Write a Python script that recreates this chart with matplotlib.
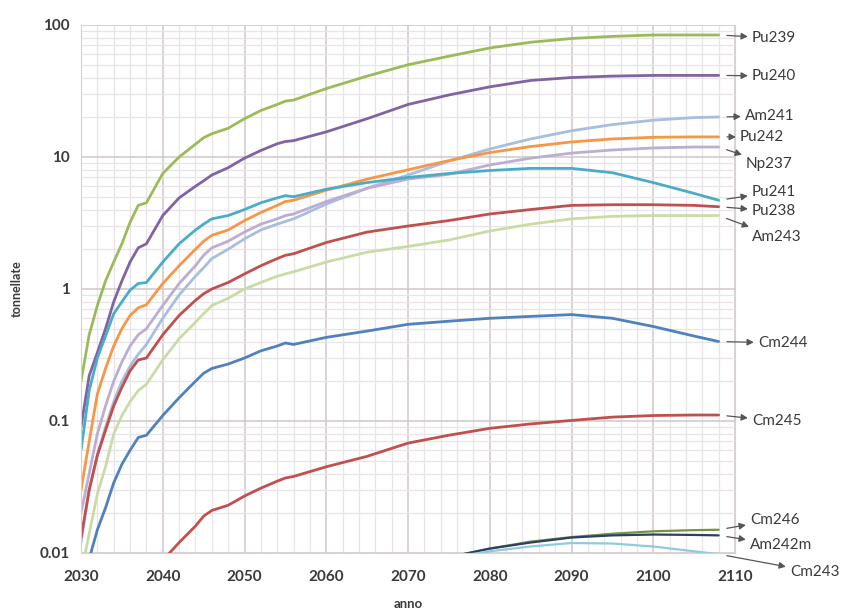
import numpy as np
import matplotlib
matplotlib.use("Agg")
from matplotlib import pyplot as plt
from matplotlib.ticker import FixedLocator, FuncFormatter, LogLocator, NullFormatter

years = [2030, 2031, 2032, 2033, 2034, 2035, 2036, 2037, 2038, 2040, 2042, 2044, 2045, 2046,
         2048, 2050, 2052, 2054, 2055, 2056, 2060, 2065, 2070, 2075, 2080, 2085, 2090, 2095,
         2100, 2105, 2108]

nan = np.nan

pu239 = [0.2, 0.45, 0.75, 1.15, 1.6, 2.2, 3.2, 4.3, 4.5, 7.5, 10, 12.5, 14, 15,
         16.5, 19.5, 22.5, 25, 26.5, 27, 33, 41, 50, 58, 67, 74, 79, 82,
         84, 84, 84]
pu240 = [0.09, 0.22, 0.33, 0.5, 0.8, 1.15, 1.6, 2.05, 2.2, 3.6, 4.9, 6.0, 6.6, 7.3,
         8.3, 9.8, 11.2, 12.6, 13.1, 13.3, 15.5, 19.5, 25, 29.5, 34, 38, 40, 41,
         41.5, 41.5, 41.5]
am241 = [0.012, 0.03, 0.055, 0.09, 0.14, 0.2, 0.26, 0.32, 0.38, 0.6, 0.9, 1.25, 1.45, 1.7,
         2.0, 2.4, 2.8, 3.1, 3.25, 3.4, 4.4, 5.8, 7.3, 9.3, 11.5, 13.7, 15.8, 17.6,
         19.0, 19.9, 20.1]
pu242 = [0.03, 0.07, 0.16, 0.25, 0.37, 0.5, 0.63, 0.72, 0.76, 1.1, 1.5, 2.0, 2.3, 2.55,
         2.8, 3.3, 3.8, 4.3, 4.6, 4.7, 5.6, 6.8, 8.0, 9.4, 10.8, 12.0, 13.0, 13.7,
         14.1, 14.2, 14.2]
np237 = [0.02, 0.04, 0.08, 0.13, 0.2, 0.28, 0.37, 0.45, 0.5, 0.75, 1.1, 1.5, 1.8, 2.05,
         2.3, 2.7, 3.1, 3.4, 3.6, 3.7, 4.6, 5.8, 6.8, 7.4, 8.7, 9.8, 10.7, 11.3,
         11.7, 11.9, 11.9]
pu241 = [0.06, 0.17, 0.3, 0.44, 0.65, 0.8, 0.98, 1.1, 1.12, 1.6, 2.2, 2.8, 3.1, 3.4,
         3.6, 4.0, 4.5, 4.9, 5.1, 5.0, 5.7, 6.4, 7.0, 7.5, 7.9, 8.2, 8.2, 7.6,
         6.4, 5.3, 4.7]
pu238 = [0.013, 0.03, 0.055, 0.085, 0.13, 0.18, 0.24, 0.29, 0.3, 0.45, 0.63, 0.82, 0.92, 1.0,
         1.12, 1.3, 1.5, 1.7, 1.8, 1.85, 2.25, 2.7, 3.0, 3.3, 3.7, 4.0, 4.3, 4.35,
         4.35, 4.3, 4.2]
am243 = [0.007, 0.014, 0.028, 0.045, 0.08, 0.11, 0.14, 0.17, 0.19, 0.29, 0.42, 0.56, 0.65, 0.75,
         0.85, 1.0, 1.12, 1.25, 1.3, 1.35, 1.6, 1.9, 2.1, 2.35, 2.75, 3.1, 3.4, 3.55,
         3.6, 3.6, 3.6]
cm244 = [0.005, 0.009, 0.015, 0.022, 0.034, 0.047, 0.06, 0.075, 0.078, 0.11, 0.15, 0.2, 0.23, 0.25,
         0.27, 0.3, 0.34, 0.37, 0.39, 0.38, 0.43, 0.48, 0.54, 0.57, 0.6, 0.62, 0.64, 0.6,
         0.52, 0.44, 0.4]
cm245 = [nan, nan, nan, nan, nan, nan, nan, nan, 0.006, 0.0088, 0.012, 0.016, 0.019, 0.021,
         0.023, 0.027, 0.031, 0.035, 0.037, 0.038, 0.045, 0.054, 0.068, 0.078, 0.088, 0.095, 0.101, 0.107,
         0.11, 0.111, 0.111]
cm246 = [nan] * 21 + [0.0068, 0.008, 0.0093, 0.0108, 0.0122, 0.0132, 0.014, 0.0146, 0.0149, 0.015]
am242m = [nan] * 21 + [0.0068, 0.008, 0.0093, 0.0108, 0.012, 0.0131, 0.0136, 0.0138, 0.0137, 0.0136]
cm243 = [nan] * 21 + [0.0068, 0.008, 0.0092, 0.0103, 0.0112, 0.0119, 0.0118, 0.0112, 0.0103, 0.0098]

series_names = ["Pu239", "Pu240", "Am241", "Pu242", "Np237", "Pu241", "Pu238", "Am243",
                "Cm244", "Cm245", "Cm246", "Am242m", "Cm243"]
series_values = [pu239, pu240, am241, pu242, np237, pu241, pu238, am243,
                 cm244, cm245, cm246, am242m, cm243]
colors = ["#9BBB59", "#8064A2", "#A7BEDE", "#F79646", "#BCADD3", "#4BACC6", "#C0504D", "#C9DCA6",
          "#4F81BD", "#C0504D", "#77933C", "#2C3E6B", "#8FCBDC"]

# posizione delle etichette (pixel dall'alto a sinistra)
label_pos = {
    "Pu239": (752, 38), "Pu240": (752, 76), "Am241": (745, 116), "Pu242": (740, 137),
    "Np237": (746, 164), "Pu241": (752, 192), "Pu238": (752, 211), "Am243": (752, 237),
    "Cm244": (758, 343), "Cm245": (752, 421), "Cm246": (750, 520), "Am242m": (750, 545),
    "Cm243": (790, 572),
}

W, H = 844, 608
fig = plt.figure(figsize=(W / 100, H / 100), dpi=100)
ax = fig.add_axes([81 / W, 55 / H, 654 / W, 528 / H])

for name, vals, c in zip(series_names, series_values, colors):
    lw = 1.6 if name in ("Cm246", "Am242m", "Cm243") else 2.0
    ax.plot(years, vals, color=c, lw=lw, solid_capstyle="round")

ax.set_yscale("log")
ax.set_ylim(0.01, 100)
ax.set_xlim(2030, 2110)

ax.xaxis.set_major_locator(FixedLocator(range(2030, 2111, 10)))
ax.xaxis.set_minor_locator(FixedLocator(range(2030, 2111, 2)))
ax.yaxis.set_major_locator(FixedLocator([0.01, 0.1, 1, 10, 100]))
ax.yaxis.set_minor_locator(LogLocator(base=10, subs=np.arange(2, 10)))
ax.yaxis.set_minor_formatter(NullFormatter())
ax.yaxis.set_major_formatter(FuncFormatter(lambda v, p: "%g" % v))

ax.grid(True, which="major", color="#D2C6C8", lw=1.1)
ax.grid(True, which="minor", color="#E8E4EA", lw=0.9)
ax.set_axisbelow(True)
for s in ax.spines.values():
    s.set_color("#D8D0D2")
ax.tick_params(which="both", length=0, labelsize=11, labelcolor="#3A3A3A")
ax.tick_params(axis="x", pad=12)
ax.tick_params(axis="y", pad=8)
for t in ax.get_xticklabels() + ax.get_yticklabels():
    t.set_fontfamily("Lato")
    t.set_fontweight("bold")

ax.set_ylabel("tonnellate", fontsize=9, fontweight="bold", family="Lato", color="#3A3A3A", labelpad=12)
ax.set_xlabel("anno", fontsize=9.5, fontweight="bold", family="Lato", color="#3A3A3A", labelpad=10)

for name, vals, c in zip(series_names, series_values, colors):
    px, py = label_pos[name]
    ax.annotate(name, xy=(years[-1], vals[-1]), xycoords="data",
                xytext=(px, H - py), textcoords="figure pixels",
                ha="left", va="center", fontsize=11, family="Lato", color="#3A3A3A",
                arrowprops=dict(arrowstyle="<|-, head_length=0.35, head_width=0.18",
                                color="#555555", lw=0.9, shrinkA=1, shrinkB=6),
                annotation_clip=False)

plt.savefig("out.png", dpi=100)
plt.close(fig)
